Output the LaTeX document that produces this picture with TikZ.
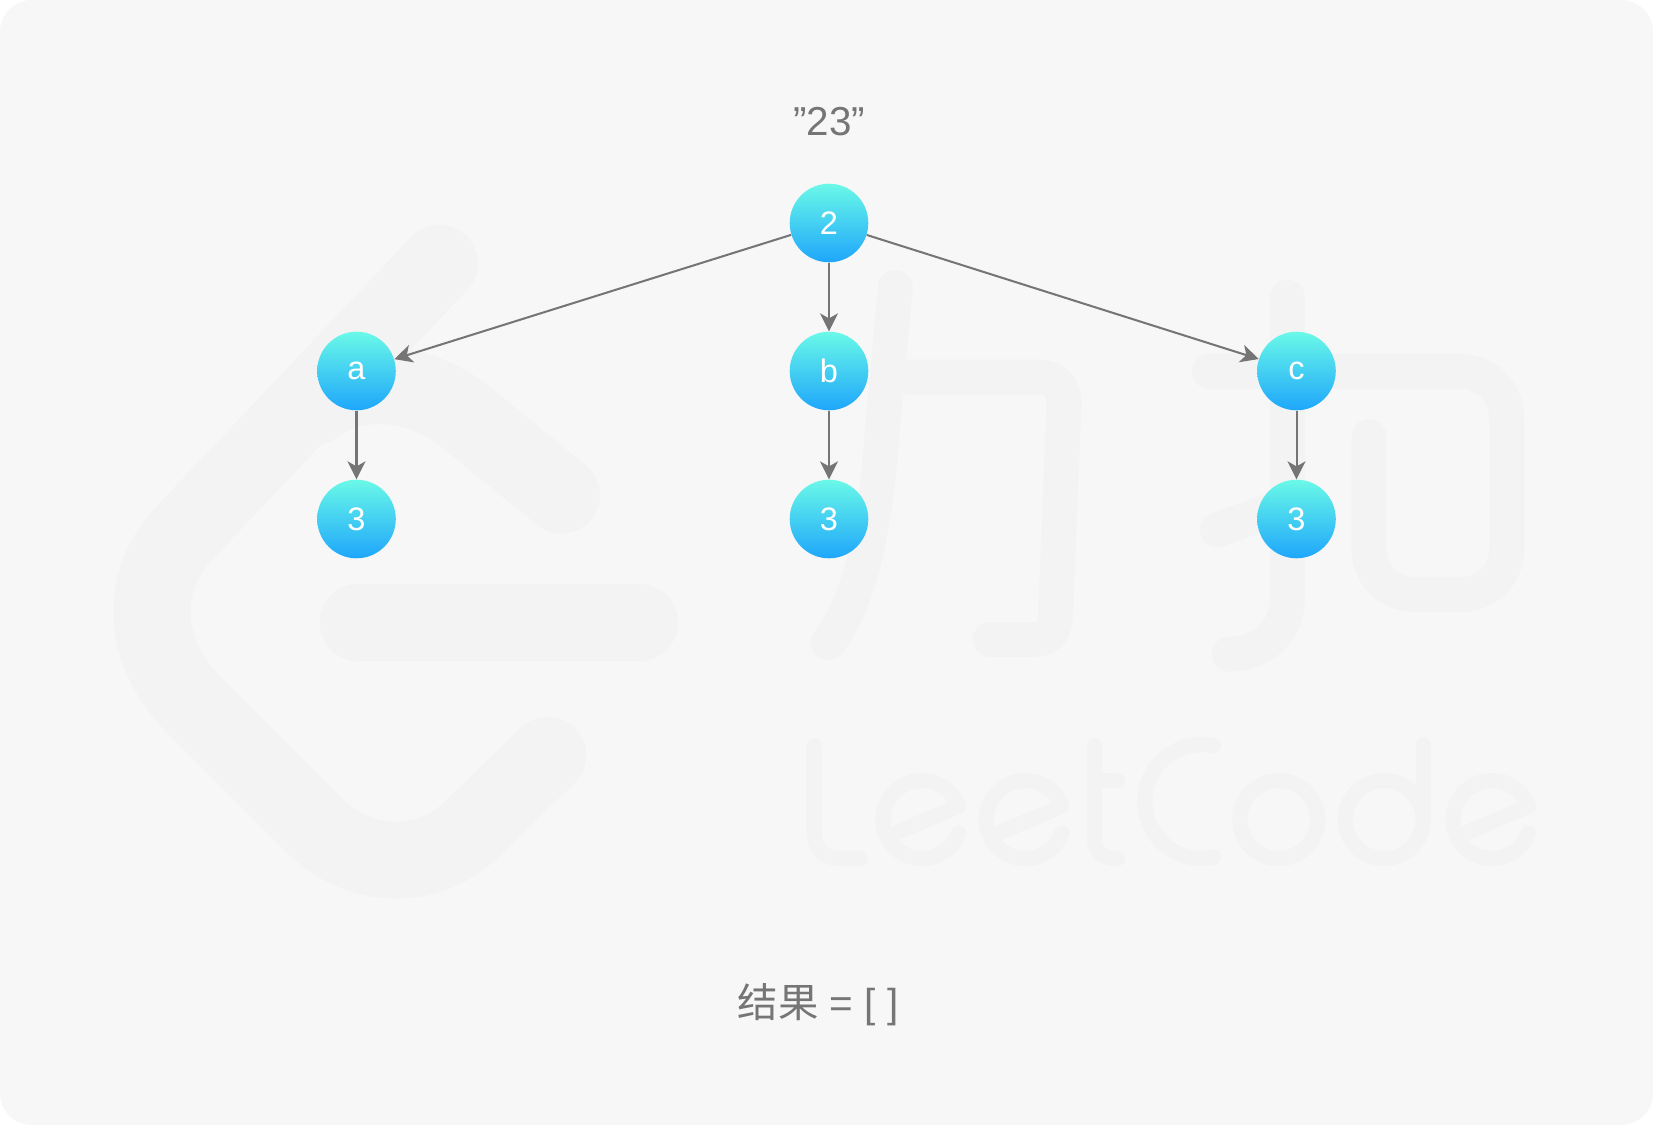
\documentclass[tikz,border=0pt]{standalone}
\usepackage{fontspec}
\setmainfont{Liberation Sans}
\newfontfamily\cjk{Noto Sans CJK SC}
\usetikzlibrary{arrows.meta}
\definecolor{bgcol}{HTML}{F7F7F7}
\definecolor{markcol}{HTML}{F3F3F3}
\definecolor{linecol}{HTML}{757575}
\definecolor{topcol}{HTML}{6AF9E8}
\definecolor{botcol}{HTML}{1EA6FB}
\tikzset{
  ballnode/.style={circle,inner sep=0pt,minimum size=1.572cm,top color=topcol,bottom color=botcol,
    text=white,font=\fontsize{18.5}{18.5}\selectfont},
  capt/.style={text=linecol,font=\fontsize{23}{23}\selectfont},
  link/.style={draw=linecol,line width=1.15pt,-{Stealth[length=0.36cm,width=0.36cm,inset=0.1cm]}},
  wmbig/.style={draw=markcol,line width=43.8pt,line cap=round,line join=round},
  wmmid/.style={draw=markcol,line width=19.8pt,line cap=round,line join=round},
  wmthin/.style={draw=markcol,line width=8.6pt,line cap=round,line join=round},
}
\begin{document}
\begin{tikzpicture}[x=0.02cm,y=-0.02cm]
\useasboundingbox (0,0) rectangle (1653,1125);
\fill[white] (0,0) rectangle (1653,1125);
\fill[bgcol,rounded corners=0.64cm] (0,0) rectangle (1653,1125);
% watermark
\begin{scope}[x=0.02108cm,y=-0.02108cm]
\draw[wmbig] (417,250) -- (176,505) .. controls (130,553) and (135,620) .. (185,670) -- (300,785) .. controls (345,828) and (410,826) .. (450,785) -- (520,717);
\draw[wmbig] (533,470) -- (441,395) .. controls (400,362) and (340,355) .. (300,385);
\draw[wmbig] (340,591) -- (607,591);
\draw[wmmid] (850,273) -- (834,450) .. controls (825,530) and (810,580) .. (786,610);
\draw[wmmid] (860,358) -- (985,358) .. controls (1002,358) and (1011,368) .. (1010,385) -- (1002,585) .. controls (1001,600) and (995,607) .. (980,607) -- (940,607);
\draw[wmmid] (1222,282) -- (1222,569) .. controls (1222,600) and (1197,621) .. (1167,621);
\draw[wmmid] (1155.5,503) -- (1222,479);
\draw[wmmid] (1148,352.4) -- (1385,352.4) .. controls (1412,352.4) and (1430.5,372) .. (1430.5,400) -- (1430.5,520) .. controls (1430.5,546) and (1412,564.5) .. (1385,564.5) -- (1345,564.5) .. controls (1318,564.5) and (1299.6,546) .. (1299.6,520) -- (1299.6,414.5);
\draw[wmthin] (773,708) -- (773,790) .. controls (773,806) and (782,815) .. (798,815) -- (816,815);
\foreach \cx in {875,973,1416}
  \draw[wmthin] (\cx-23,790) -- (\cx+35,765.35) arc (-20:-340:37);
\draw[wmthin] (1039,708) -- (1039,795) .. controls (1039,808) and (1046,815) .. (1061,815);
\draw[wmthin] (1039,741) -- (1061,741);
\draw[wmthin] (1152,708) arc (-78:-282:54);
\draw[wmthin] (1214,778) circle (37);
\draw[wmthin] (1314,778) circle (37);
\draw[wmthin] (1351,707) -- (1351,778);
\end{scope}
% tree
\node[capt] (title) at (829,122) {"23"};
\node[ballnode] (root) at (829,223) {2};
\node[ballnode] (a) at (356.5,371) {a};
\node[ballnode] (b) at (829,371) {b};
\node[ballnode] (c) at (1296.5,371) {c};
\node[ballnode] (a3) at (356.5,519) {3};
\node[ballnode] (b3) at (829,519) {3};
\node[ballnode] (c3) at (1296.5,519) {3};
\draw[link] (root) -- (a);
\draw[link] (root) -- (b);
\draw[link] (root) -- (c);
\draw[link] (a) -- (a3);
\draw[link] (b) -- (b3);
\draw[link] (c) -- (c3);
\node[capt] (result) at (818,1005) {{\cjk 结果} = [ ]};
\end{tikzpicture}
\end{document}
